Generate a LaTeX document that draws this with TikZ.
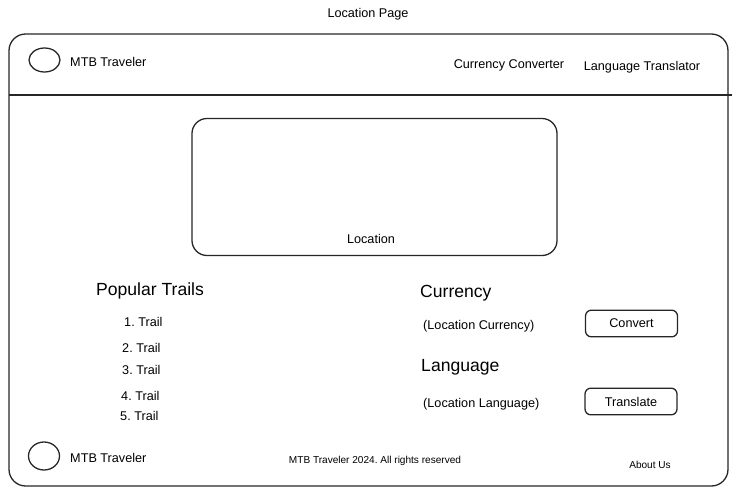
\documentclass[tikz,border=0pt]{standalone}
\usepackage{fontspec}
\setmainfont{Liberation Sans}
\frenchspacing
\usetikzlibrary{positioning}
\usetikzlibrary{shapes.geometric}

\tikzset{
  sketch/.style={draw=black!85, line width=1.1pt},
  txt/.style={font=\fontsize{10.8}{12}\selectfont, inner sep=0},
  bigtxt/.style={font=\fontsize{15}{17}\selectfont, inner sep=0},
  smalltxt/.style={font=\fontsize{8.6}{10}\selectfont, inner sep=0},
  logo/.style={sketch, ellipse, minimum width=0.93cm, minimum height=0.72cm, inner sep=0},
  button/.style={sketch, txt, rounded corners=5pt, minimum width=2.76cm, minimum height=0.8cm},
}

\begin{document}
\begin{tikzpicture}[x=0.03cm, y=-0.03cm]
\useasboundingbox (0,0) rectangle (739,501);

\node[txt] (title) at (368,14.5) {Location Page};
\draw[sketch, rounded corners=0.5cm] (9,34) rectangle (728,486);

\coordinate (hl) at (9,95);
\coordinate (hr) at (732,95);
\draw[sketch] (hl) -- (hr);

\node[logo] (toplogo) at (44.5,60) {};
\node[txt, anchor=west] (brand) at (70,62) {MTB Traveler};
\node[txt] (currlink) at (509,65) {Currency Converter};
\node[txt] (langlink) at (642,67) {Language Translator};

\node[sketch, rounded corners=0.45cm, minimum width=10.95cm, minimum height=4.11cm] (mapbox) at (374.5,187) {};
\node[txt] (maplabel) at (371,239) {Location};

\node[bigtxt] (trails) at (150,290.5) {Popular Trails};
\foreach \i/\x/\y in {1/124/322, 2/122/348, 3/122/370, 4/121/396, 5/120/416}  {
  \node[txt, anchor=west] (trail\i) at (\x,\y) {\i. Trail}; }

\node[bigtxt, anchor=west] (currhead) at (420,293.5) {Currency};
\node[txt, anchor=west] (currval) at (423,326) {(Location Currency)};
\node[button] (convert) at (631.5,323.5) {Convert};
\node[bigtxt, anchor=west] (langhead) at (421,367.5) {Language};
\node[txt, anchor=west] (langval) at (423,404) {(Location Language)};
\node[button] (translate) at (631,401.5) {Translate};

\node[logo, minimum height=0.84cm] (footlogo) at (44,456) {};
\node[txt, anchor=west] (footbrand) at (70,458) {MTB Traveler};
\node[smalltxt] (copy) at (375,460.5) {MTB Traveler 2024. All rights reserved};
\node[smalltxt] (about) at (650,464.5) {About Us};

\end{tikzpicture}
\end{document}
